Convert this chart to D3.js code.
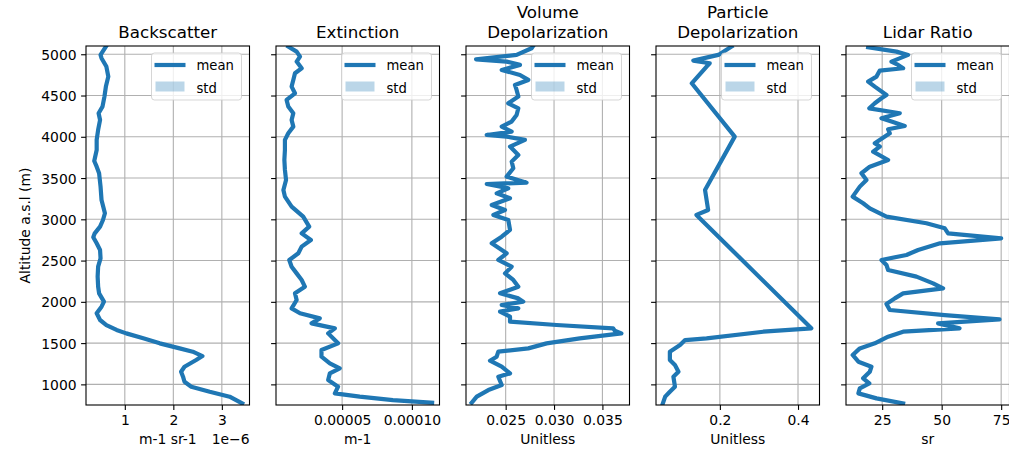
<!DOCTYPE html>
<html>
<head>
<meta charset="utf-8">
<script src="https://cdn.jsdelivr.net/npm/d3@7"></script>
<style>
  html, body { margin: 0; padding: 0; background: #fff; }
  svg { display: block; font-family: "DejaVu Sans", sans-serif; }
</style>
</head>
<body>
<svg id="chart" width="1009" height="454"></svg>
<script>
// ---------------- DATA ----------------
const altitudeTicks = [1000, 1500, 2000, 2500, 3000, 3500, 4000, 4500, 5000];

// Backscatter (values in units of 1e-6 m-1 sr-1)
const backscatterAlt  = [5093,4992,4952,4851,4729,4608,4487,4366,4285,4204,4083,3962,3840,3707,3638,3558,3396,3234,3073,2992,2911,2830,2782,2709,2628,2527,2426,2305,2184,2103,2002,1941,1861,1780,1719,1659,1618,1558,1497,1436,1396,1343,1295,1214,1153,1093,1032,972,911,851,769];
const backscatterMean = [0.61,0.50,0.52,0.62,0.66,0.61,0.58,0.54,0.46,0.49,0.45,0.42,0.42,0.37,0.42,0.47,0.50,0.52,0.59,0.55,0.49,0.38,0.35,0.42,0.49,0.50,0.45,0.44,0.45,0.47,0.57,0.52,0.42,0.49,0.62,0.83,1.03,1.38,1.72,2.13,2.40,2.60,2.47,2.23,2.16,2.20,2.23,2.37,2.75,3.16,3.42];
const backscatterTicks = [1, 2, 3];

// Extinction (values in units of 1e-5 m-1)
const extinctionAlt  = [5093,5032,4972,4911,4830,4770,4689,4608,4527,4446,4366,4285,4204,4123,4042,3962,3840,3719,3598,3477,3356,3275,3154,3032,2911,2830,2749,2669,2588,2507,2426,2345,2265,2184,2103,2022,1921,1861,1800,1739,1679,1618,1497,1416,1335,1255,1194,1133,1053,972,891,851,810,778];
const extinctionMean = [1.14,1.74,1.98,1.74,2.10,1.62,1.50,1.38,1.62,1.02,1.14,1.50,1.38,1.50,1.14,0.90,0.90,0.86,0.90,0.98,0.79,0.90,1.38,2.21,2.64,2.10,2.76,2.10,1.86,1.21,1.38,1.74,2.10,2.33,1.62,1.74,1.38,1.98,3.40,2.81,4.48,4.00,4.71,3.52,3.52,4.12,4.83,4.12,4.00,4.71,4.48,6.26,8.64,11.45];
const extinctionTicks = [0.00005, 0.00010];

// Volume depolarization (values in units of 1e-3)
const volDepolAlt  = [5093,5073,4992,4939,4911,4871,4810,4749,4689,4628,4568,4487,4406,4345,4265,4184,4123,4063,4022,4002,3962,3881,3780,3699,3618,3517,3444,3428,3376,3315,3255,3174,3113,3053,2992,2871,2790,2709,2588,2507,2426,2345,2265,2184,2103,2042,2002,1962,1921,1881,1820,1760,1719,1679,1651,1618,1558,1497,1436,1396,1335,1287,1214,1133,1093,992,931,851,778];
const volDepolMean = [27.8,27.68,26.13,21.94,25.10,26.48,24.59,26.48,27.34,25.96,26.13,26.31,25.27,26.31,26.13,25.62,24.59,25.62,23.04,25.10,26.99,25.45,26.31,25.62,25.79,25.10,27.16,23.04,25.27,24.07,25.45,23.56,24.93,23.73,25.27,25.45,24.59,23.56,25.10,24.24,25.62,24.93,25.79,26.31,24.42,26.31,26.82,24.59,26.31,24.42,25.45,25.45,30.26,36.10,36.27,36.96,32.66,29.23,27.34,24.24,24.07,23.38,24.59,25.45,24.24,24.59,23.21,22.01,21.49];
const volDepolTicks = [0.025, 0.030, 0.035];

// Particle depolarization
const partDepolAlt  = [5093,4992,4923,4891,4851,4648,4002,3356,3234,3113,3053,1679,1638,1558,1537,1477,1396,1295,1234,1153,1093,972,911,851,769];
const partDepolMean = [0.230,0.196,0.132,0.174,0.166,0.128,0.238,0.162,0.166,0.170,0.140,0.434,0.311,0.166,0.111,0.098,0.072,0.072,0.085,0.094,0.081,0.085,0.072,0.060,0.054];
const partDepolTicks = [0.2, 0.4];

// Lidar ratio (sr)
const lidarAlt  = [5085,5032,4992,4911,4871,4830,4802,4729,4669,4608,4507,4467,4406,4345,4285,4224,4184,4131,4091,4042,3921,3881,3820,3719,3638,3558,3477,3396,3275,3194,3133,3032,2952,2891,2830,2770,2709,2628,2568,2507,2446,2386,2305,2224,2164,2103,2042,1974,1901,1840,1788,1739,1679,1638,1578,1497,1436,1356,1275,1214,1153,1073,1012,951,891,830,769];
const lidarMean = [19.1,31.0,35.9,28.9,31.7,33.8,24.0,22.6,19.1,21.9,26.8,24.7,21.9,19.6,32.4,24.7,28.9,34.5,27.5,28.2,21.9,24.0,21.2,27.5,19.8,16.3,18.4,15.6,12.6,17.0,19.8,26.8,43.6,51.3,52.7,75.0,49.3,40.1,35.2,24.7,26.8,27.5,39.4,46.4,50.6,33.8,30.3,26.8,28.2,51.3,74.3,48.5,57.5,33.8,27.5,21.9,15.6,12.6,15.0,20.5,19.8,17.0,19.6,15.6,15.0,22.6,33.8];
const lidarTicks = [25, 50, 75];

const panelTitles = [["Backscatter"], ["Extinction"], ["Volume", "Depolarization"], ["Particle", "Depolarization"], ["Lidar Ratio"]];
const xLabels = ["m-1 sr-1", "m-1", "Unitless", "Unitless", "sr"];
const legendLabels = ["mean", "std"];
const yLabel = "Altitude a.s.l (m)";

// ---------------- LAYOUT ----------------
const svg = d3.select("#chart");
const topY = 46, bottomY = 405, left0 = 86, step = 190, pw = 163.5;
const blue = "#1f77b4";
const gridColor = "#b0b0b0";

const y = d3.scaleLinear().domain([750, 5100]).range([bottomY, topY]);

const panels = [
  { alt: backscatterAlt, val: backscatterMean, scale: 1e-6, domain: [0.2e-6, 3.57e-6], ticks: backscatterTicks.map(t => t * 1e-6), fmt: d => d3.format("d")(Math.round(d / 1e-6)), offset: "1e\u22126" },
  { alt: extinctionAlt, val: extinctionMean, scale: 1e-5, domain: [0.26e-5, 11.98e-5], ticks: extinctionTicks, fmt: d => d.toFixed(5) },
  { alt: volDepolAlt, val: volDepolMean, scale: 1e-3, domain: [0.0209, 0.0378], ticks: volDepolTicks, fmt: d => d.toFixed(3) },
  { alt: partDepolAlt, val: partDepolMean, scale: 1, domain: [0.0365, 0.455], ticks: partDepolTicks, fmt: d => d.toFixed(1) },
  { alt: lidarAlt, val: lidarMean, scale: 1, domain: [9.8, 78.5], ticks: lidarTicks, fmt: d => d3.format("d")(d) }
];

panels.forEach((p, i) => {
  const L = left0 + i * step, R = L + pw;
  const x = d3.scaleLinear().domain(p.domain).range([L, R]);
  const g = svg.append("g");

  const cid = "clip" + i;
  svg.append("clipPath").attr("id", cid).append("rect")
    .attr("x", L).attr("y", topY).attr("width", pw).attr("height", bottomY - topY);

  // grid
  g.append("g").selectAll("line").data(p.ticks).join("line")
    .attr("x1", d => x(d)).attr("x2", d => x(d)).attr("y1", topY).attr("y2", bottomY)
    .attr("stroke", gridColor).attr("stroke-width", 1.1);
  g.append("g").selectAll("line").data(altitudeTicks).join("line")
    .attr("x1", L).attr("x2", R).attr("y1", d => y(d)).attr("y2", d => y(d))
    .attr("stroke", gridColor).attr("stroke-width", 1.1);

  // curve
  const pts = p.alt.map((a, k) => [p.val[k] * p.scale, a]);
  const line = d3.line().x(d => x(d[0])).y(d => y(d[1]));
  g.append("path").datum(pts).attr("d", line)
    .attr("fill", "none").attr("stroke", blue).attr("stroke-width", 4.2)
    .attr("stroke-linejoin", "round").attr("stroke-linecap", "square")
    .attr("clip-path", `url(#${cid})`);

  // x axis
  const xAxis = d3.axisBottom(x).tickValues(p.ticks).tickFormat(p.fmt).tickSize(4.9).tickPadding(4.5);
  const xa = g.append("g").attr("transform", `translate(0,${bottomY})`).call(xAxis);
  xa.select(".domain").remove();
  xa.selectAll("line").attr("stroke", "#000").attr("stroke-width", 1.1);
  xa.selectAll("text").attr("font-family", "DejaVu Sans").attr("font-size", 13.9).attr("fill", "#000").attr("dy", "0.73em");

  // y axis
  const yAxis = d3.axisLeft(y).tickValues(altitudeTicks).tickSize(4.9).tickPadding(4.5)
    .tickFormat(i === 0 ? d3.format("d") : () => "");
  const ya = g.append("g").attr("transform", `translate(${L},0)`).call(yAxis);
  ya.select(".domain").remove();
  ya.selectAll("line").attr("stroke", "#000").attr("stroke-width", 1.1);
  ya.selectAll("text").attr("font-family", "DejaVu Sans").attr("font-size", 13.9).attr("fill", "#000").attr("dy", "0.36em");

  // spines
  g.append("rect").attr("x", L).attr("y", topY).attr("width", pw).attr("height", bottomY - topY)
    .attr("fill", "none").attr("stroke", "#000").attr("stroke-width", 1.1);

  // title
  const lines = panelTitles[i];
  const t = g.append("text").attr("text-anchor", "middle").attr("font-size", 16.7).attr("fill", "#000");
  lines.forEach((s, k) => {
    t.append("tspan").attr("x", (L + R) / 2).attr("y", 37.5 - (lines.length - 1 - k) * 19.5).text(s);
  });

  // x label
  g.append("text").attr("x", (L + R) / 2).attr("y", 444).attr("text-anchor", "middle")
    .attr("font-size", 13.9).attr("fill", "#000").text(xLabels[i]);
  if (p.offset) {
    g.append("text").attr("x", R).attr("y", 444).attr("text-anchor", "end")
      .attr("font-size", 13.9).attr("fill", "#000").text(p.offset);
  }

  // legend
  const lg = g.append("g");
  lg.append("rect").attr("x", R - 98).attr("y", topY + 7).attr("width", 90).attr("height", 47)
    .attr("rx", 3).attr("fill", "#fff").attr("fill-opacity", 0.8)
    .attr("stroke", "#cccccc").attr("stroke-opacity", 0.8).attr("stroke-width", 1);
  lg.append("line").attr("x1", R - 95).attr("x2", R - 64).attr("y1", topY + 19).attr("y2", topY + 19)
    .attr("stroke", blue).attr("stroke-width", 4.2);
  lg.append("rect").attr("x", R - 94).attr("y", topY + 35.5).attr("width", 29).attr("height", 10)
    .attr("fill", blue).attr("fill-opacity", 0.3);
  lg.append("text").attr("x", R - 53).attr("y", topY + 24).attr("font-size", 13.2).attr("fill", "#000").text(legendLabels[0]);
  lg.append("text").attr("x", R - 53).attr("y", topY + 47).attr("font-size", 13.2).attr("fill", "#000").text(legendLabels[1]);
});

// y label
svg.append("text").attr("transform", `translate(30,${(topY + bottomY) / 2}) rotate(-90)`)
  .attr("text-anchor", "middle").attr("font-size", 13.9).attr("fill", "#000").text(yLabel);
</script>
</body>
</html>
